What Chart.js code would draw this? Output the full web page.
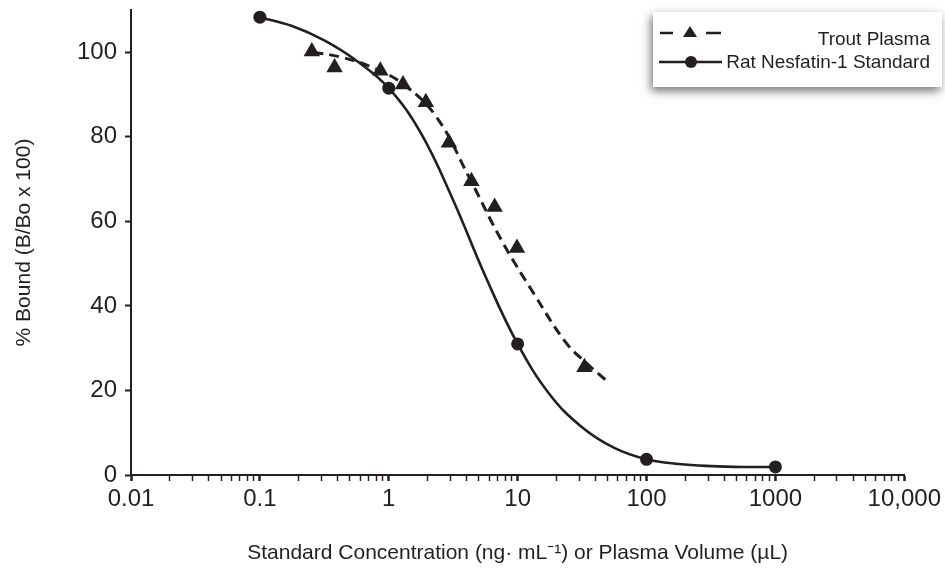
<!DOCTYPE html>
<html>
<head>
<meta charset="utf-8">
<script src="https://cdn.jsdelivr.net/npm/chart.js@4/dist/chart.umd.min.js"></script>
<style>
  html, body { margin: 0; padding: 0; background: #fff; }
  #wrap { width: 945px; height: 580px; position: relative; }
</style>
</head>
<body>
<div id="wrap"><canvas id="bindingChart"></canvas></div>
<script>
// ---- data ----
const ratStdX = [0.1, 1, 10, 100, 1000];
const ratStdY = [108.3, 91.5, 31, 3.7, 1.9];

const troutX = [0.253, 0.38, 0.86, 1.29, 1.94, 2.93, 4.38, 6.63, 9.88, 33];
const troutY = [100.2, 96.4, 95.6, 92.4, 88.2, 78.6, 69.5, 63.4, 53.7, 25.5];

// fitted curves
const ratFitX = [0.1, 0.178, 0.316, 0.562, 1, 1.78, 3.16, 5.62, 10, 17.8, 31.6, 56.2, 100, 178, 316, 562, 1000];
const ratFitY = [108.3, 106.2, 102.8, 98.0, 91.5, 80.8, 65, 47, 31, 19, 11.3, 6.4, 3.7, 2.6, 2.1, 1.9, 1.9];

const troutFitX = [0.26, 0.42, 0.75, 1.33, 2.37, 4.22, 7.5, 13.3, 23.7, 35, 48];
const troutFitY = [100, 98.9, 96.4, 92.2, 84.5, 70.3, 55.5, 43, 31.3, 26.2, 22.5];

const xDecades = [0.01, 0.1, 1, 10, 100, 1000, 10000];
const xTickLabels = ["0.01", "0.1", "1", "10", "100", "1000", "10,000"];
const yTicks = [0, 20, 40, 60, 80, 100];

const seriesLabels = ["Trout Plasma", "Rat Nesfatin-1 Standard"];

const ink = "#231f20";
const zip = (xs, ys) => xs.map((x, i) => ({ x: x, y: ys[i] }));

// legend box drawn on the canvas (top right, with drop shadow)
const boxLegend = {
  id: "boxLegend",
  afterDraw(chart) {
    const ctx = chart.ctx;
    ctx.save();
    ctx.shadowColor = "rgba(0,0,0,0.55)";
    ctx.shadowBlur = 9;
    ctx.shadowOffsetX = -2;
    ctx.shadowOffsetY = 4;
    ctx.fillStyle = "#fff";
    ctx.fillRect(653, 12, 289, 75);
    ctx.restore();

    ctx.save();
    ctx.strokeStyle = ink;
    ctx.fillStyle = ink;
    ctx.lineWidth = 2.5;
    // dashed entry
    ctx.beginPath();
    ctx.moveTo(660, 33); ctx.lineTo(673, 33);
    ctx.moveTo(706, 33); ctx.lineTo(721, 33);
    ctx.stroke();
    ctx.beginPath();
    ctx.moveTo(690, 26); ctx.lineTo(697, 37); ctx.lineTo(683, 37); ctx.closePath();
    ctx.fill();
    // solid entry
    ctx.beginPath();
    ctx.moveTo(659, 62); ctx.lineTo(722, 62);
    ctx.stroke();
    ctx.beginPath();
    ctx.arc(691, 62, 6, 0, Math.PI * 2);
    ctx.fill();

    ctx.font = "19px 'Liberation Sans', Arial, sans-serif";
    ctx.textAlign = "right";
    ctx.textBaseline = "middle";
    ctx.fillText(seriesLabels[0], 930, 40);
    ctx.fillText(seriesLabels[1], 930, 63);
    ctx.restore();
  }
};

new Chart(document.getElementById("bindingChart"), {
  type: "scatter",
  data: {
    datasets: [
      {
        label: seriesLabels[0] + " fit",
        data: zip(troutFitX, troutFitY),
        showLine: true,
        borderColor: ink,
        borderWidth: 3,
        borderDash: [10, 6],
        pointRadius: 0,
        tension: 0.4
      },
      {
        label: seriesLabels[1] + " fit",
        data: zip(ratFitX, ratFitY),
        showLine: true,
        borderColor: ink,
        borderWidth: 2.6,
        pointRadius: 0,
        tension: 0.4
      },
      {
        label: seriesLabels[0],
        data: zip(troutX, troutY),
        pointStyle: "triangle",
        pointRadius: 9.5,
        backgroundColor: ink,
        borderColor: ink,
        borderWidth: 0
      },
      {
        label: seriesLabels[1],
        data: zip(ratStdX, ratStdY),
        pointStyle: "circle",
        pointRadius: 6.5,
        backgroundColor: ink,
        borderColor: ink,
        borderWidth: 0
      }
    ]
  },
  options: {
    responsive: true,
    maintainAspectRatio: false,
    animation: false,
    layout: { padding: { top: 10, right: 38, left: 0, bottom: 0 } },
    plugins: {
      legend: { display: false },
      tooltip: { enabled: false }
    },
    scales: {
      x: {
        type: "logarithmic",
        min: 0.01,
        max: 10000,
        afterFit: (s) => { s.height = 105; },
        afterBuildTicks: (s) => {
          const t = [];
          for (let e = -2; e <= 3; e++) {
            for (let m = 1; m <= 9; m++) {
              t.push({ value: Number((m * Math.pow(10, e)).toPrecision(6)), major: m === 1 });
            }
          }
          t.push({ value: 10000, major: true });
          s.ticks = t;
        },
        ticks: {
          autoSkip: false,
          maxRotation: 0,
          color: ink,
          padding: 4,
          font: { family: "'Liberation Sans', Arial, sans-serif", size: 24 },
          callback: function (v) {
            const i = xDecades.indexOf(v);
            return i >= 0 ? xTickLabels[i] : "";
          }
        },
        grid: {
          drawOnChartArea: false,
          tickLength: 6,
          tickColor: ink,
          tickWidth: (c) => (c.tick && c.tick.major ? 2.5 : 1.5)
        },
        border: { color: ink, width: 2 },
        title: {
          display: true,
          text: "Standard Concentration (ng\u00b7 mL\u207b\u00b9) or Plasma Volume (\u00b5L)",
          color: ink,
          font: { family: "'Liberation Sans', Arial, sans-serif", size: 21 },
          padding: { top: 0, bottom: 14 }
        }
      },
      y: {
        min: 0,
        max: 110,
        afterFit: (s) => { s.width = 131; s.paddingTop = 0; s.paddingBottom = 0; },
        afterBuildTicks: (s) => { s.ticks = yTicks.map((v) => ({ value: v })); },
        ticks: {
          color: ink,
          padding: 8,
          font: { family: "'Liberation Sans', Arial, sans-serif", size: 24 }
        },
        grid: {
          drawOnChartArea: false,
          tickLength: 6,
          tickColor: ink,
          tickWidth: 2
        },
        border: { color: ink, width: 2 },
        title: {
          display: true,
          text: "% Bound (B/Bo x 100)",
          color: ink,
          font: { family: "'Liberation Sans', Arial, sans-serif", size: 21 },
          padding: { top: 12, bottom: 10 }
        }
      }
    }
  },
  plugins: [boxLegend]
});
</script>
</body>
</html>
